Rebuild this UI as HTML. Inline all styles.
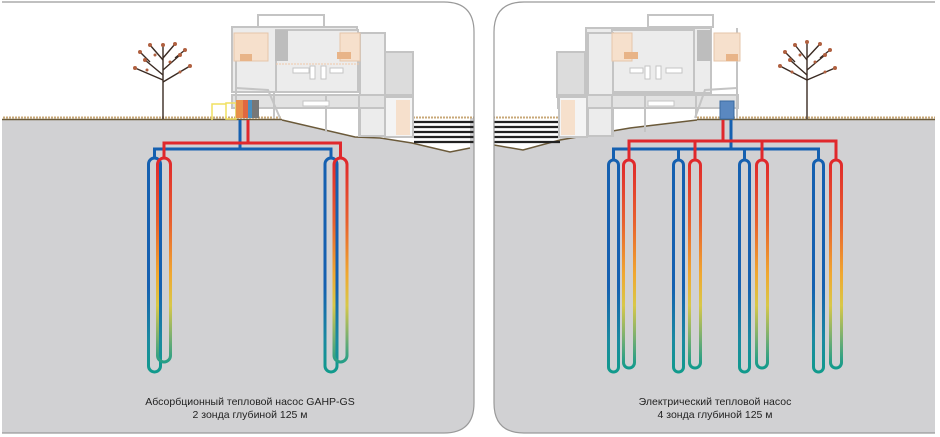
<!DOCTYPE html>
<html><head><meta charset="utf-8"><style>html,body{margin:0;padding:0;background:#fff}svg{display:block}</style></head>
<body>
<svg width="940" height="437" viewBox="0 0 940 437" xmlns="http://www.w3.org/2000/svg">
<defs>
<linearGradient id="gb" gradientUnits="userSpaceOnUse" x1="0" y1="160" x2="0" y2="372">
<stop offset="0" stop-color="#1560b0"/><stop offset="0.6" stop-color="#1560b0"/><stop offset="0.85" stop-color="#1a8aa0"/><stop offset="1" stop-color="#119a8c"/></linearGradient>
<linearGradient id="gr" gradientUnits="userSpaceOnUse" x1="0" y1="160" x2="0" y2="368">
<stop offset="0" stop-color="#e0282c"/><stop offset="0.3" stop-color="#e8602e"/><stop offset="0.55" stop-color="#f0a830"/><stop offset="0.7" stop-color="#d8c848"/><stop offset="0.85" stop-color="#7ab070"/><stop offset="1" stop-color="#119a8c"/></linearGradient>
<clipPath id="cl"><path d="M2,2 H444 Q474,2 474,32 V403 Q474,433 444,433 H2 Z"/></clipPath>
<clipPath id="cr"><path d="M524,2 H935 V433 H524 Q494,433 494,403 V32 Q494,2 524,2 Z"/></clipPath>
</defs>

<!-- LEFT PANEL -->
<g clip-path="url(#cl)">
<rect x="0" y="0" width="480" height="437" fill="#d1d1d3"/>
<path d="M0,0 H480 V118 H470 V148 L450,152 L412,143 L380,138 L355,137 L282,120 H0 Z" fill="#fff"/>
<line x1="0" y1="119.5" x2="282" y2="119.5" stroke="#6b5a3a" stroke-width="1.5"/>
<line x1="0" y1="117.5" x2="282" y2="117.5" stroke="#c8a878" stroke-width="2" stroke-dasharray="2 1"/>
<polyline points="282,120 355,137 380,138 412,143 450,152 470,148" fill="none" stroke="#6b5a3a" stroke-width="1.5"/>
<line x1="410" y1="117.5" x2="480" y2="117.5" stroke="#c8a878" stroke-width="2" stroke-dasharray="2 1"/>
<g stroke="#222" stroke-width="2.2"><line x1="414" y1="122" x2="480" y2="122"/><line x1="414" y1="127" x2="480" y2="127"/><line x1="414" y1="132" x2="480" y2="132"/><line x1="414" y1="137" x2="480" y2="137"/><line x1="414" y1="142" x2="480" y2="142"/></g>
<!-- house -->
<g fill="#ececec" stroke="#c4c4c4" stroke-width="2">
<rect x="258" y="15" width="66" height="12" fill="none"/>
<rect x="232" y="27" width="125" height="65"/>
<rect x="276" y="30" width="82" height="62"/>
<rect x="360" y="33" width="25" height="103"/>
<rect x="385" y="52" width="28" height="45" fill="#dcdcdc"/>
<rect x="232" y="95" width="180" height="13" fill="#e2e2e2"/>
<line x1="236" y1="60" x2="236" y2="118"/><line x1="274" y1="92" x2="274" y2="118"/>
<line x1="326" y1="95" x2="326" y2="132"/><line x1="359" y1="95" x2="359" y2="137"/>
<rect x="385" y="97" width="28" height="40" fill="#f4f4f4"/>
</g>
<rect x="275" y="30" width="13" height="31" fill="#bdbdbd"/>
<rect x="340" y="33" width="20" height="28" fill="#f6e0cc" stroke="#e6c6aa"/>
<rect x="234" y="33" width="34" height="28" fill="#f6e0cc" stroke="#e6c6aa"/>
<rect x="240" y="54" width="12" height="7" fill="#e8b488"/><rect x="337" y="52" width="14" height="7" fill="#e8b488"/>
<rect x="396" y="100" width="14" height="35" fill="#f6e0cc"/>
<g fill="#fff" stroke="#c4c4c4"><rect x="293" y="68" width="16" height="5"/><rect x="310" y="66" width="5" height="13"/><rect x="321" y="66" width="5" height="13"/><rect x="330" y="68" width="13" height="5"/><rect x="303" y="101" width="26" height="5"/></g>
<line x1="276" y1="64" x2="360" y2="64" stroke="#f0c8a8" stroke-dasharray="2 1"/>
<path d="M236,88 L268,90 L280,118" fill="none" stroke="#c4c4c4" stroke-width="2"/>
<!-- heat pump -->
<rect x="226" y="103" width="10" height="16" fill="none" stroke="#f0e060" stroke-width="1.5"/>
<line x1="236" y1="119" x2="0" y2="119" stroke="#f0e060" stroke-width="1.5" opacity="0"/>
<path d="M226,104 H212 V120" fill="none" stroke="#f0e060" stroke-width="1.5"/>
<rect x="236" y="100" width="7" height="18" fill="#e8904a"/><rect x="243" y="100" width="5" height="18" fill="#e06840"/><rect x="248" y="100" width="4" height="18" fill="#4a90c0"/><rect x="252" y="100" width="7" height="18" fill="#777"/>
<!-- tree -->
<g stroke="#3a2a22" stroke-width="1.4" fill="none">
<line x1="163" y1="119" x2="163" y2="45"/>
<path d="M163,75 L145,60 M163,70 L180,55 M163,60 L150,45 M163,58 L175,44 M163,82 L190,66 M163,80 L135,68 M150,62 L140,52 M175,58 L185,50"/>
</g>
<g fill="#b06040"><circle cx="145" cy="60" r="2"/><circle cx="180" cy="55" r="2"/><circle cx="150" cy="45" r="2"/><circle cx="175" cy="44" r="2"/><circle cx="190" cy="66" r="2"/><circle cx="135" cy="68" r="2"/><circle cx="140" cy="52" r="2"/><circle cx="185" cy="50" r="2"/><circle cx="163" cy="45" r="2"/><circle cx="155" cy="55" r="1.5"/><circle cx="170" cy="62" r="1.5"/><circle cx="147" cy="70" r="1.5"/><circle cx="180" cy="72" r="1.5"/></g>
<!-- pipes -->
<g fill="none" stroke-width="3">
<line x1="240" y1="120" x2="240" y2="149" stroke="#1560b0"/>
<path d="M154.5,158 V149 H331 V158" stroke="#1560b0"/>
<line x1="248" y1="120" x2="248" y2="143" stroke="#e0282c"/>
<path d="M164,158 V143 H340.5 V158" stroke="#e0282c"/>
<rect x="148.5" y="158" width="12" height="214" rx="6" stroke="url(#gb)"/>
<rect x="157.5" y="158" width="13" height="204" rx="6.5" stroke="url(#gr)"/>
<rect x="325" y="158" width="12" height="214" rx="6" stroke="url(#gb)"/>
<rect x="334" y="158" width="13" height="204" rx="6.5" stroke="url(#gr)"/>
</g>
</g>
<path d="M2,2 H444 Q474,2 474,32 V403 Q474,433 444,433 H2" fill="none" stroke="#9a9a9a" stroke-width="1.2"/>
<g font-family="Liberation Sans, sans-serif" font-size="10.5" fill="#222" text-anchor="middle">
<text x="250" y="405">Абсорбционный тепловой насос GAHP-GS</text>
<text x="250" y="418">2 зонда глубиной 125 м</text>
</g>

<!-- RIGHT PANEL -->
<g clip-path="url(#cr)">
<rect x="490" y="0" width="450" height="437" fill="#d1d1d3"/>
<path d="M490,0 H940 V120 H697 L560,137 V140 L523,150 L494,145 V118 H490 Z" fill="#fff"/>
<line x1="697" y1="119.5" x2="940" y2="119.5" stroke="#6b5a3a" stroke-width="1.5"/>
<line x1="697" y1="117.5" x2="940" y2="117.5" stroke="#c8a878" stroke-width="2" stroke-dasharray="2 1"/>
<polyline points="697,120 630,128 560,140 523,150 494,145" fill="none" stroke="#6b5a3a" stroke-width="1.5"/>
<line x1="490" y1="117.5" x2="560" y2="117.5" stroke="#c8a878" stroke-width="2" stroke-dasharray="2 1"/>
<g stroke="#222" stroke-width="2.2"><line x1="490" y1="122" x2="560" y2="122"/><line x1="490" y1="127" x2="560" y2="127"/><line x1="490" y1="132" x2="560" y2="132"/><line x1="490" y1="137" x2="560" y2="137"/><line x1="490" y1="142" x2="560" y2="142"/></g>
<g fill="#ececec" stroke="#c4c4c4" stroke-width="2">
<rect x="648" y="15" width="65" height="12" fill="none"/>
<rect x="586" y="28" width="125" height="65"/>
<rect x="612" y="30" width="82" height="62"/>
<rect x="588" y="33" width="25" height="103"/>
<rect x="557" y="52" width="28" height="45" fill="#dcdcdc"/>
<rect x="558" y="95" width="180" height="13" fill="#e2e2e2"/>
<line x1="737" y1="28" x2="737" y2="118"/><line x1="696" y1="92" x2="696" y2="118"/>
<line x1="645" y1="95" x2="645" y2="132"/><line x1="612" y1="95" x2="612" y2="137"/>
<rect x="559" y="97" width="28" height="40" fill="#f4f4f4"/>
</g>
<rect x="697" y="30" width="14" height="31" fill="#bdbdbd"/>
<rect x="612" y="33" width="20" height="28" fill="#f6e0cc" stroke="#e6c6aa"/>
<rect x="714" y="33" width="26" height="28" fill="#f6e0cc" stroke="#e6c6aa"/>
<rect x="624" y="52" width="14" height="7" fill="#e8b488"/><rect x="726" y="54" width="12" height="7" fill="#e8b488"/>
<rect x="561" y="100" width="14" height="35" fill="#f6e0cc"/>
<g fill="#fff" stroke="#c4c4c4"><rect x="630" y="68" width="13" height="5"/><rect x="645" y="66" width="5" height="13"/><rect x="656" y="66" width="5" height="13"/><rect x="666" y="68" width="16" height="5"/><rect x="648" y="101" width="26" height="5"/></g>
<path d="M737,88 L705,90 L695,118" fill="none" stroke="#c4c4c4" stroke-width="2"/>
<rect x="720" y="101" width="14" height="18" fill="#5a88c0" stroke="#3a6aa0"/>
<g stroke="#3a2a22" stroke-width="1.4" fill="none">
<line x1="807" y1="119" x2="807" y2="42"/>
<path d="M807,75 L790,60 M807,70 L825,55 M807,60 L795,45 M807,58 L820,44 M807,80 L835,68 M807,80 L780,66 M795,62 L785,52 M820,58 L830,50"/>
</g>
<g fill="#b06040"><circle cx="790" cy="60" r="2"/><circle cx="825" cy="55" r="2"/><circle cx="795" cy="45" r="2"/><circle cx="820" cy="44" r="2"/><circle cx="835" cy="68" r="2"/><circle cx="780" cy="66" r="2"/><circle cx="785" cy="52" r="2"/><circle cx="830" cy="50" r="2"/><circle cx="807" cy="42" r="2"/><circle cx="800" cy="55" r="1.5"/><circle cx="815" cy="62" r="1.5"/><circle cx="792" cy="72" r="1.5"/><circle cx="825" cy="72" r="1.5"/></g>
<g fill="none" stroke-width="3">
<line x1="731" y1="120" x2="731" y2="149" stroke="#1560b0"/>
<path d="M613.5,160 V149 H818.5 V160 M678.5,149 V160 M744.5,149 V160" stroke="#1560b0"/>
<line x1="723" y1="120" x2="723" y2="141" stroke="#e0282c"/>
<path d="M629,160 V141 H836 V160 M695,141 V160 M762,141 V160" stroke="#e0282c"/>
<rect x="608.5" y="160" width="10" height="212" rx="5" stroke="url(#gb)"/>
<rect x="673.5" y="160" width="10" height="212" rx="5" stroke="url(#gb)"/>
<rect x="739.5" y="160" width="10" height="212" rx="5" stroke="url(#gb)"/>
<rect x="813.5" y="160" width="10" height="212" rx="5" stroke="url(#gb)"/>
<rect x="623.5" y="160" width="11" height="208" rx="5.5" stroke="url(#gr)"/>
<rect x="689.5" y="160" width="11" height="208" rx="5.5" stroke="url(#gr)"/>
<rect x="756.5" y="160" width="11" height="208" rx="5.5" stroke="url(#gr)"/>
<rect x="830.5" y="160" width="11" height="208" rx="5.5" stroke="url(#gr)"/>
</g>
</g>
<path d="M935,2 H524 Q494,2 494,32 V403 Q494,433 524,433 H935" fill="none" stroke="#9a9a9a" stroke-width="1.2"/>
<g font-family="Liberation Sans, sans-serif" font-size="10.5" fill="#222" text-anchor="middle">
<text x="715" y="405">Электрический тепловой насос</text>
<text x="715" y="418">4 зонда глубиной 125 м</text>
</g>
</svg>
</body></html>
